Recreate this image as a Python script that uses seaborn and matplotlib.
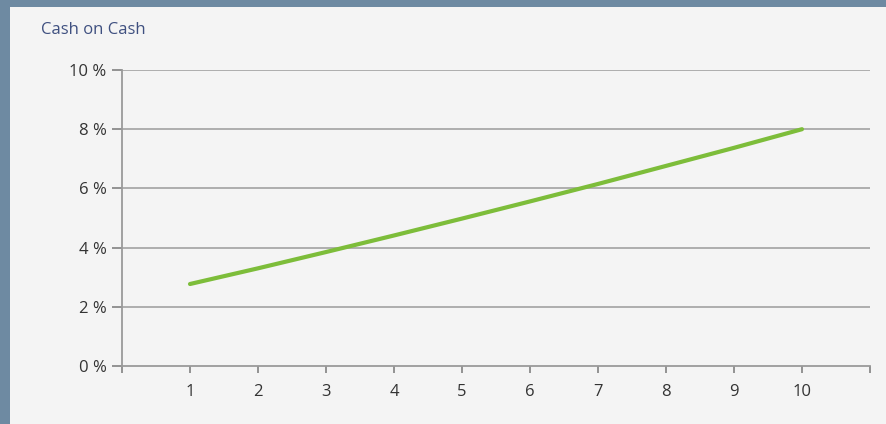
import matplotlib
matplotlib.use("Agg")
import matplotlib.pyplot as plt
from matplotlib.patches import Rectangle
from matplotlib.ticker import FixedLocator, FuncFormatter
import pandas as pd
import seaborn as sns

# Cash-on-cash return by holding year
years = [1, 2, 3, 4, 5, 6, 7, 8, 9, 10]
cash_on_cash = [2.77, 3.30, 3.85, 4.41, 4.98, 5.56, 6.15, 6.76, 7.37, 8.00]
y_ticks = [0, 2, 4, 6, 8, 10]
title = "Cash on Cash"

df = pd.DataFrame({"year": years, "coc": cash_on_cash})

sns.set_style("white")
plt.rcParams["font.family"] = ["Open Sans", "DejaVu Sans"]

W, H = 887, 424
fig = plt.figure(figsize=(W / 100, H / 100), dpi=100, facecolor="#6e8aa2")

# light card behind the chart
fig.patches.append(Rectangle((10 / W, 0), 1 - 10 / W, (H - 7) / H,
                             transform=fig.transFigure, facecolor="#f4f4f4",
                             edgecolor="none", zorder=-10))

ax = fig.add_axes([122 / W, 1 - 366 / H, (870 - 122) / W, (366 - 70) / H])
ax.set_zorder(5)
ax.set_facecolor("none")

sns.lineplot(data=df, x="year", y="coc", ax=ax, color="#7dbd3a",
             linewidth=3.0, solid_capstyle="round", zorder=3)

ax.set_xlim(0, 11)
ax.set_ylim(0, 10)

grid_c = "#a8a8a8"
for v in y_ticks[1:]:
    ax.axhline(v, color=grid_c, linewidth=1.3, zorder=1)

for side in ("top", "right"):
    ax.spines[side].set_visible(False)
for side in ("left", "bottom"):
    ax.spines[side].set_color("#9a9a9a")
    ax.spines[side].set_linewidth(1.3)

ax.xaxis.set_major_locator(FixedLocator(list(range(0, 12))))
ax.xaxis.set_major_formatter(FuncFormatter(lambda v, p: str(int(v)) if 1 <= v <= 10 else ""))
ax.yaxis.set_major_locator(FixedLocator(y_ticks))
ax.yaxis.set_major_formatter(FuncFormatter(lambda v, p: f"{int(v)} %"))

ax.tick_params(axis="x", length=5, width=1.3, color="#8a8a8a", pad=8,
               labelsize=12, labelcolor="#333333", bottom=True)
ax.tick_params(axis="y", length=7, width=1.3, color="#8a8a8a", pad=4,
               labelsize=12, labelcolor="#333333", left=True)
ax.set_xlabel("")
ax.set_ylabel("")

fig.text(41 / W, 1 - 30 / H, title, ha="left", va="center", fontsize=12,
         color="#3f5080", zorder=6)

fig.savefig("out.png", dpi=100, facecolor=fig.get_facecolor())
